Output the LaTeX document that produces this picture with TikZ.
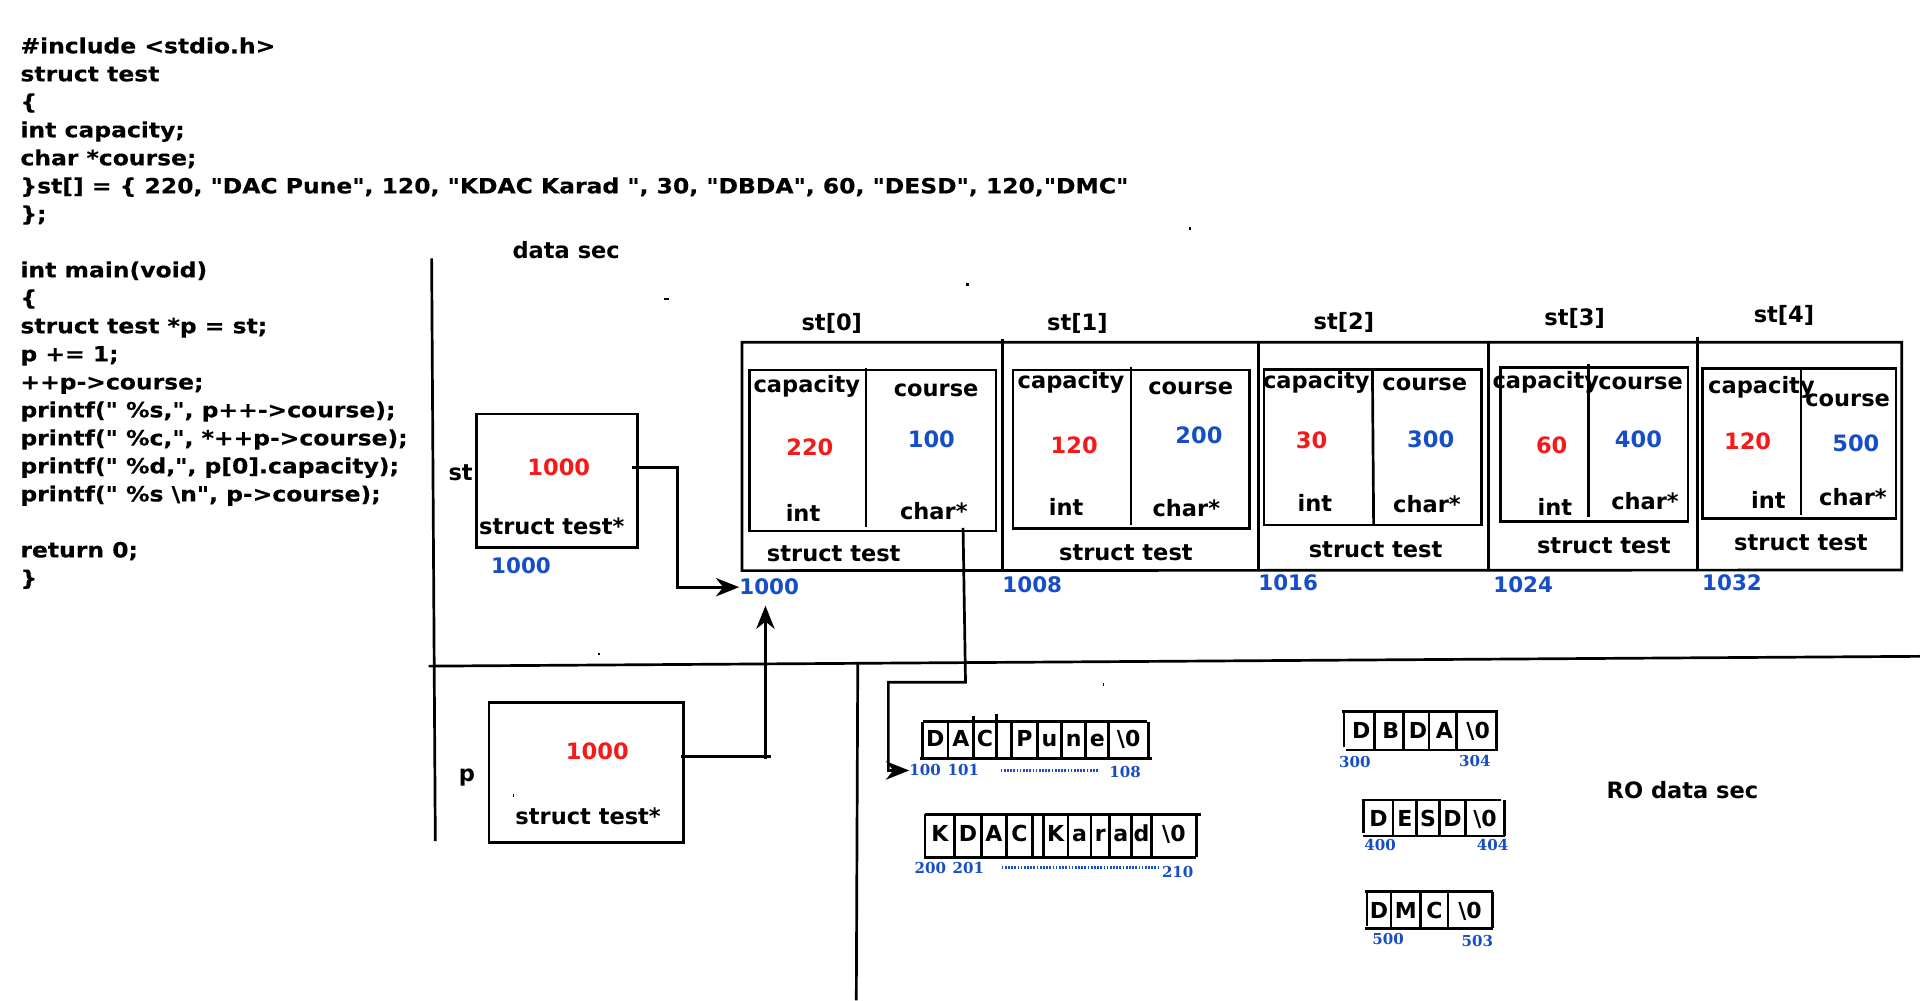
\documentclass[tikz,border=0pt]{standalone}
\usepackage{fontspec}
\setmainfont{DejaVu Sans}
\newfontfamily\codefont{DejaVu Sans}[FakeStretch=1.12,FakeBold=0.3]
\newfontfamily\addrfont{DejaVu Serif}
\usetikzlibrary{arrows.meta}
\definecolor{valred}{RGB}{245,25,25}
\definecolor{addrblue}{RGB}{22,78,200}

\tikzset{
  code/.style={anchor=base west, inner sep=0pt, font=\codefont\bfseries\fontsize{17.1}{20}\selectfont},
  lbl/.style={anchor=base, inner sep=0pt, font=\bfseries\fontsize{18.4}{20}\selectfont},
  redval/.style={lbl, text=valred},
  blueval/.style={lbl, text=addrblue},
  memaddr/.style={anchor=base, inner sep=0pt, text=addrblue, font=\bfseries\fontsize{17.5}{20}\selectfont},
  straddr/.style={anchor=base, inner sep=0pt, text=addrblue, font=\addrfont\bfseries\fontsize{12.3}{14}\selectfont},
  cellch/.style={anchor=base, inner sep=0pt, font=\bfseries\fontsize{18}{20}\selectfont},
  wire/.style={line width=2.2pt},
  arr/.style={line width=2.2pt, -{Stealth[length=19pt,width=15pt,inset=6pt]}},
  dotrun/.style={addrblue, line width=2.4pt, dash pattern=on 1.4pt off 1.2pt},
}

\begin{document}
\begin{tikzpicture}[x=1pt,y=-1pt]
\useasboundingbox[fill=white] (0,0) rectangle (1568,817);

% ---------- source code ----------
\node[code] (c0)  at (16.5, 43.5) {\#include <stdio.h>};
\node[code] (c1)  at (16.5, 66.4) {struct test};
\node[code] (c2)  at (16.5, 89.2) {\{};
\node[code] (c3)  at (16.5,112.1) {int capacity;};
\node[code] (c4)  at (16.5,135.0) {char *course;};
\node[code] (c5)  at (16.5,157.9) {\}st[] = \{ 220, "DAC Pune", 120, "KDAC Karad ", 30, "DBDA", 60, "DESD", 120,"DMC"};
\node[code] (c6)  at (16.5,180.7) {\};};
\node[code] (c8)  at (16.5,226.5) {int main(void)};
\node[code] (c9)  at (16.5,249.3) {\{};
\node[code] (c10) at (16.5,272.2) {struct test *p = st;};
\node[code] (c11) at (16.5,295.1) {p += 1;};
\node[code] (c12) at (16.5,318.0) {++p->course;};
\node[code] (c13) at (16.5,340.8) {printf(" \%s,", p++->course);};
\node[code] (c14) at (16.5,363.7) {printf(" \%c,", *++p->course);};
\node[code] (c15) at (16.5,386.6) {printf(" \%d,", p[0].capacity);};
\node[code] (c16) at (16.5,409.5) {printf(" \%s \textbackslash n", p->course);};
\node[code] (c18) at (16.5,455.2) {return 0;};
\node[code] (c19) at (16.5,478.1) {\}};

% ---------- section borders ----------
\draw[wire] (352.5,211) -- (355.5,687);
\draw[wire] (350,544) -- (1568,536);
\draw[wire] (700.5,542) -- (699.3,817);
\node[lbl] (datasec) at (462.4,211) {data sec};
\node[lbl] (rosec) at (1374,651.7) {RO data sec};

% ---------- pointer st ----------
\draw[wire] (389.1,338.1) rectangle (520.5,447);
\node[lbl] (stname) at (376.2,392) {st};
\node[redval] (stval) at (456.3,388.7) {1000};
\node[lbl] (sttype) at (450.6,436.4) {struct test*};
\node[memaddr] (staddr) at (425.5,468.2) {1000};

% ---------- pointer p ----------
\draw[wire] (399.3,573.6) rectangle (558.4,687.9);
\node[lbl] (pname) at (381.3,638.4) {p};
\node[redval] (pval) at (487.8,620.1) {1000};
\node[lbl] (ptype) at (480.3,673.7) {struct test*};

% ---------- array st[] ----------
\draw[wire] (606,279.5) -- (1553,279.5) -- (1553,465.5) -- (606,466) -- cycle;
\draw[wire] (818.5,277) -- (818.5,466);
\draw[wire] (1027.5,279.5) -- (1027.5,466);
\draw[wire] (1215.4,279.5) -- (1215.4,466);
\draw[wire] (1386,275) -- (1386,466);

% element boxes
\draw[wire] (611.8,302.2) rectangle (813.3,433.7);
\draw[wire] (707.1,300.5) -- (707.1,430.1);
\draw[wire] (827.2,302.2) rectangle (1020.3,431.5);
\draw[wire] (923.6,300) -- (923.6,429);
\draw[wire] (1032.3,301.6) rectangle (1209.6,428.7);
\draw[wire] (1120.8,301.6) -- (1121.8,428.7);
\draw[wire] (1225.5,300) rectangle (1378.4,426);
\draw[wire] (1297.3,297) -- (1297.3,422);
\draw[wire] (1390.4,300.8) rectangle (1548.5,423.3);
\draw[wire] (1470.8,300.8) -- (1470.8,420.6);

% st[0]
\node[lbl] (e0name) at (679.3,270.3) {st[0]};
\node[lbl] (e0cap) at (658.9,320.7) {capacity};
\node[lbl] (e0crs) at (764.5,324) {course};
\node[redval] (e0v1) at (661.4,371.6) {220};
\node[blueval] (e0v2) at (760.6,365.6) {100};
\node[lbl] (e0int) at (655.8,426) {int};
\node[lbl] (e0chr) at (762.6,423.9) {char*};
\node[lbl] (e0typ) at (680.9,458.7) {struct test};
\node[memaddr] (a0) at (628.2,485.9) {1000};
% st[1]
\node[lbl] (e1name) at (879.9,269.5) {st[1]};
\node[lbl] (e1cap) at (874.6,317.1) {capacity};
\node[lbl] (e1crs) at (972.4,321.8) {course};
\node[redval] (e1v1) at (877.3,370.2) {120};
\node[blueval] (e1v2) at (979.1,362) {200};
\node[lbl] (e1int) at (870.6,421.1) {int};
\node[lbl] (e1chr) at (968.8,421.9) {char*};
\node[lbl] (e1typ) at (919.5,457.9) {struct test};
\node[memaddr] (a1) at (843,484) {1008};
% st[2]
\node[lbl] (e2name) at (1097.5,268.7) {st[2]};
\node[lbl] (e2cap) at (1075,317.1) {capacity};
\node[lbl] (e2crs) at (1163.6,318.5) {course};
\node[redval] (e2v1) at (1071.1,366.1) {30};
\node[blueval] (e2v2) at (1168.4,365.6) {300};
\node[lbl] (e2int) at (1073.8,417.9) {int};
\node[lbl] (e2chr) at (1165.3,418.4) {char*};
\node[lbl] (e2typ) at (1123.4,455.1) {struct test};
\node[memaddr] (a2) at (1052,482.6) {1016};
% st[3]
\node[lbl] (e3name) at (1285.9,266.2) {st[3]};
\node[lbl] (e3cap) at (1262.4,317.1) {capacity};
\node[lbl] (e3crs) at (1339.8,318) {course};
\node[redval] (e3v1) at (1267.2,370.2) {60};
\node[blueval] (e3v2) at (1338.1,365.6) {400};
\node[lbl] (e3int) at (1269.8,420.6) {int};
\node[lbl] (e3chr) at (1343.4,415.9) {char*};
\node[lbl] (e3typ) at (1309.8,452.4) {struct test};
\node[memaddr] (a3) at (1243.9,484) {1024};
% st[4]
\node[lbl] (e4name) at (1456.9,263.5) {st[4]};
\node[lbl] (e4cap) at (1438.5,321.2) {capacity};
\node[lbl] (e4crs) at (1508.9,332.1) {course};
\node[redval] (e4v1) at (1427.2,367) {120};
\node[blueval] (e4v2) at (1515.6,368.9) {500};
\node[lbl] (e4int) at (1444.2,415.1) {int};
\node[lbl] (e4chr) at (1513.2,413.2) {char*};
\node[lbl] (e4typ) at (1470.8,449.2) {struct test};
\node[memaddr] (a4) at (1414.5,482.6) {1032};

% ---------- string literals ----------
% "DAC Pune"
\draw[wire] (753.5,589.3) -- (937,589.3);
\draw[wire] (751,619.3) -- (941,619.3);
\draw[wire] (753.5,589.3) -- (753.5,619.3);
\foreach \l/\r/\c [count=\k] in {753.5/774.2/D, 774.2/795.1/A, 795.1/813.8/C, 813.8/826.3/{}, 826.3/847.1/P, 847.1/867.1/u, 867.1/886.7/n, 886.7/905.5/e, 905.5/938/\textbackslash0}
  {\draw[wire] (\r,589.3) -- (\r,619.3);
   \node[cellch] (dac\k) at ({(\l+\r)/2},609.8) {\c};}
\draw[wire] (813.8,583) -- (813.8,590);
\draw[wire] (795.1,585) -- (795.1,590);
\node[straddr] (l100) at (755.5,633.7) {100};
\node[straddr] (l101) at (786.8,633.7) {101};
\node[straddr] (l108) at (918.8,634.8) {108};
\draw[dotrun] (817.2,629.6) -- (896.3,629.6);

% "KDAC Karad "
\draw[wire] (755.5,665) -- (980.5,665);
\draw[wire] (754.5,700.1) -- (977,700.1);
\draw[wire] (755.5,665) -- (755.5,700.1);
\foreach \l/\r/\c [count=\k] in {755.5/779.7/K, 779.7/801.3/D, 801.3/822.1/A, 822.1/843/C, 843/852.2/{}, 852.2/872.2/K, 872.2/890.9/a, 890.9/906.3/r, 906.3/924.3/a, 924.3/940.3/d, 940.3/977.1/\textbackslash0}
  {\draw[wire] (\r,665) -- (\r,700.1);
   \node[cellch] (kdac\k) at ({(\l+\r)/2},687.4) {\c};}
\node[straddr] (l200) at (759.7,713.2) {200};
\node[straddr] (l201) at (790.9,713.2) {201};
\node[straddr] (l210) at (961.8,716.5) {210};
\draw[dotrun] (818,708.3) -- (947.2,708.3);

% "DBDA"
\draw[wire] (1096,581.2) -- (1223,581.2);
\draw[wire] (1099,612.5) -- (1223,612.5);
\draw[wire] (1097.6,581.2) -- (1097.6,610);
\foreach \l/\r/\c [count=\k] in {1097.6/1122.6/D, 1122.6/1146/B, 1146/1167/D, 1167/1189.3/A, 1189.3/1222/\textbackslash0}
  {\draw[wire] (\r,581.2) -- (\r,612.5);
   \node[cellch] (dbda\k) at ({(\l+\r)/2+1.5},603) {\c};}
\node[straddr] (l300) at (1106.5,626.6) {300};
\node[straddr] (l304) at (1204.5,625.6) {304};

% "DESD"
\draw[wire] (1112,653.3) -- (1226,653.3);
\draw[wire] (1113,682.7) -- (1229,682.7);
\draw[wire] (1113.7,653.3) -- (1113.7,680);
\foreach \l/\r/\c [count=\k] in {1113.7/1137.7/D, 1137.7/1157/E, 1157/1175.3/S, 1175.3/1197/D, 1197/1228.7/\textbackslash0}
  {\draw[wire] (\r,653.3) -- (\r,682.7);
   \node[cellch] (desd\k) at ({(\l+\r)/2},674.6) {\c};}
\node[straddr] (l400) at (1127,694.7) {400};
\node[straddr] (l404) at (1219,694.7) {404};

% "DMC"
\draw[wire] (1115,728.2) -- (1219,728.2);
\draw[wire] (1115,758.1) -- (1219,758.1);
\draw[wire] (1116.3,728.2) -- (1116.3,756);
\foreach \l/\r/\c [count=\k] in {1116.3/1136/D, 1136/1160.3/M, 1160.3/1182.6/C, 1182.6/1218.6/\textbackslash0}
  {\draw[wire] (\r,728.2) -- (\r,758.1);
   \node[cellch] (dmc\k) at ({(\l+\r)/2},750.2) {\c};}
\node[straddr] (l500) at (1133.6,771.7) {500};
\node[straddr] (l503) at (1206.5,773.1) {503};

% ---------- pointer connectors ----------
\coordinate (stout) at (516.3,381.9);
\coordinate (stbend) at (553.4,381.9);
\draw[arr] (stout) -- (stbend) |- (a0.west);

\coordinate (pout) at (556.3,618);
\coordinate (pover) at (629.7,618);
\coordinate (pbend) at (625.1,619.8);
\coordinate (ptip) at (625.1,494.6);
\draw[wire] (pout) -- (pover);
\draw[arr] (pbend) -- (ptip);

\coordinate (c0out) at (786.5,431);
\coordinate (cb1) at (788.5,557.2);
\coordinate (cb2) at (725.5,557.2);
\draw[arr] (c0out) -- (cb1) -- (cb2) |- (l100.west);

% stray pen marks
\fill (970.8,185.5) rectangle ++(2.2,2.2);
\fill (789,231) rectangle ++(2.2,2.2);
\fill (542.5,243.6) rectangle ++(4,1);
\fill (488,533) rectangle ++(2.2,2.2);
\fill (900.8,557.6) rectangle ++(1,2.5);
\fill (418.8,648.5) rectangle ++(1,2.5);
\end{tikzpicture}
\end{document}
